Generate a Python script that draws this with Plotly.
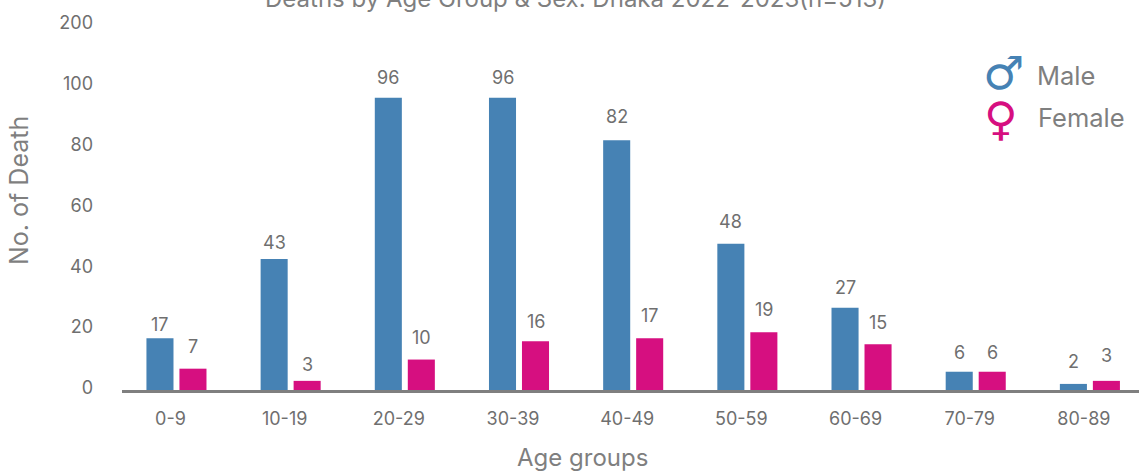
import plotly.graph_objects as go

age_groups = ["0-9", "10-19", "20-29", "30-39", "40-49", "50-59", "60-69", "70-79", "80-89"]
male_deaths = [17, 43, 96, 96, 82, 48, 27, 6, 2]
female_deaths = [7, 3, 10, 16, 17, 19, 15, 6, 3]
# The top of the axis jumps from 100 to 200, so that tick sits one step above 100
y_tick_positions = [0, 20, 40, 60, 80, 100, 120]
y_tick_labels = ["0", "20", "40", "60", "80", "100", "200"]

MALE_COLOR = "#4682B4"
FEMALE_COLOR = "#D60F80"
TEXT_COLOR = "#6f6f6f"
TITLE_COLOR = "#7f7f7f"
FONT = "Inter"

# Plot area in page pixels, used to place free-standing text
PLOT_LEFT, PLOT_WIDTH = 122, 1017
PLOT_BOTTOM, PLOT_HEIGHT = 390, 370


def page_x(px):
    return (px - PLOT_LEFT) / PLOT_WIDTH


def page_y(px):
    return (PLOT_BOTTOM - px) / PLOT_HEIGHT


# Pixel lift of each value label above its bar
male_label_lift = [14, 17, 20, 20, 24, 22, 20, 19, 22]
female_label_lift = [22, 16, 22, 20, 23, 23, 22, 19, 25]
BAR_OFFSET = 16.5

fig = go.Figure()
fig.add_bar(x=age_groups, y=male_deaths, name="Male", marker_color=MALE_COLOR, marker_line_width=0)
fig.add_bar(x=age_groups, y=female_deaths, name="Female", marker_color=FEMALE_COLOR, marker_line_width=0)

annotations = []
for values, lifts, shift in (
    (male_deaths, male_label_lift, -BAR_OFFSET),
    (female_deaths, female_label_lift, BAR_OFFSET),
):
    for group, value, lift in zip(age_groups, values, lifts):
        annotations.append(dict(
            x=group, y=value, text=str(value), showarrow=False,
            xshift=shift, yshift=lift, yanchor="middle",
            font=dict(family=FONT, size=18, color=TEXT_COLOR),
        ))

# Chart title, sitting partly beyond the top edge of the page
annotations.append(dict(
    xref="paper", yref="paper", x=page_x(575), y=page_y(-1),
    text="Deaths by Age Group &amp; Sex. Dhaka 2022-2023(n=513)", showarrow=False,
    xanchor="center", yanchor="middle",
    font=dict(family=FONT, size=24, color=TITLE_COLOR),
))

# Axis titles
annotations.append(dict(
    xref="paper", yref="paper", x=page_x(582), y=page_y(458),
    text="Age groups", showarrow=False, xanchor="center", yanchor="middle",
    font=dict(family=FONT, size=24, color=TITLE_COLOR),
))
annotations.append(dict(
    xref="paper", yref="paper", x=page_x(19), y=page_y(191),
    text="No. of Death", showarrow=False, textangle=-90, xanchor="center", yanchor="middle",
    font=dict(family=FONT, size=25, color=TITLE_COLOR),
))

# Legend: gender symbols with their names
for symbol, label, color, sym_x, sym_y, text_x, text_y in (
    ("♂", "Male", MALE_COLOR, 1003, 73, 1035, 75),
    ("♀", "Female", FEMALE_COLOR, 1001, 119, 1036, 118),
):
    annotations.append(dict(
        xref="paper", yref="paper", x=page_x(sym_x), y=page_y(sym_y),
        text=symbol, showarrow=False, xanchor="center", yanchor="middle",
        font=dict(family="DejaVu Sans", size=46, color=color),
    ))
    annotations.append(dict(
        xref="paper", yref="paper", x=page_x(text_x), y=page_y(text_y),
        text=label, showarrow=False, xanchor="left", yanchor="middle",
        font=dict(family=FONT, size=25.5, color=TITLE_COLOR),
    ))

fig.update_layout(
    width=1139, height=472,
    margin=dict(l=PLOT_LEFT, r=0, t=20, b=82),
    paper_bgcolor="white", plot_bgcolor="white",
    barmode="group", bargap=0.422, bargroupgap=0.18,
    showlegend=False,
    annotations=annotations,
    font=dict(family=FONT, color=TEXT_COLOR),
)
fig.update_xaxes(
    type="category", range=[-0.477, 8.43],
    showgrid=False, ticks="", showline=True, linecolor="#7f7f7f", linewidth=3,
    tickfont=dict(family=FONT, size=18, color=TEXT_COLOR),
    ticklabelshift=-6, ticklabelstandoff=10,
)
fig.update_yaxes(
    range=[0, 121.5], tickmode="array", tickvals=y_tick_positions, ticktext=y_tick_labels,
    showgrid=False, zeroline=False, ticks="", showline=False,
    tickfont=dict(family=FONT, size=18, color=TEXT_COLOR),
    ticklabelshift=-2, ticklabelstandoff=28,
)

fig.write_html("out.html")
